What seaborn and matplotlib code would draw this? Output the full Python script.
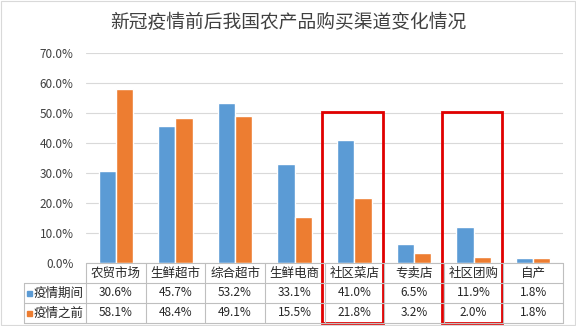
import matplotlib
matplotlib.use("Agg")
import matplotlib.pyplot as plt
from matplotlib.patches import Rectangle
from matplotlib.lines import Line2D
import seaborn as sns
import pandas as pd

categories = ["农贸市场", "生鲜超市", "综合超市", "生鲜电商", "社区菜店", "专卖店", "社区团购", "自产"]
during = [30.6, 45.7, 53.2, 33.1, 41.0, 6.5, 11.9, 1.8]
before = [58.1, 48.4, 49.1, 15.5, 21.8, 3.2, 2.0, 1.8]
series = ["疫情期间", "疫情之前"]
yticks = [0, 10, 20, 30, 40, 50, 60, 70]
title = "新冠疫情前后我国农产品购买渠道变化情况"
colors = ["#5B9BD5", "#ED7D31"]

sns.set_theme(style="white")
plt.rcParams["font.family"] = ["Noto Sans CJK SC", "DejaVu Sans"]

df = pd.DataFrame({
    "cat": categories * 2,
    "val": during + before,
    "series": [series[0]] * len(categories) + [series[1]] * len(categories),
})

W, H = 576, 326
fig = plt.figure(figsize=(W / 100, H / 100), dpi=100)
L, R, B, T = 86, 563, 263, 53
ax = fig.add_axes([L / W, 1 - B / H, (R - L) / W, (B - T) / H])
sns.barplot(data=df, x="cat", y="val", hue="series", palette=colors,
            width=0.58, ax=ax, legend=False, saturation=1)
ax.set_ylim(0, 70)
ax.set_xlim(-0.5, len(categories) - 0.5)
ax.set_yticks(yticks)
ax.set_yticklabels([f"{v:.1f}%" for v in yticks], fontsize=8.5, color="#404040")
ax.set_xticks([])
ax.set_xlabel("")
ax.set_ylabel("")
ax.tick_params(axis="y", length=0, pad=9)
ax.yaxis.grid(True, color="#d9d9d9", linewidth=0.8)
ax.set_axisbelow(True)
for s in ax.spines.values():
    s.set_visible(False)

fig.text(288 / W, 1 - 23 / H, title, ha="center", va="center", fontsize=13.5, color="#404040")

def fx(px):
    return px / W

def fy(py):
    return 1 - py / H

gc = "#bfbfbf"
colw = (R - L) / len(categories)
# horizontal lines
for py, x0 in [(263, L), (283, 24), (303, 24), (323, 24)]:
    fig.add_artist(Line2D([fx(x0), fx(R)], [fy(py), fy(py)], color=gc, lw=0.8))
# vertical lines
fig.add_artist(Line2D([fx(24), fx(24)], [fy(283), fy(323)], color=gc, lw=0.8))
for i in range(len(categories) + 1):
    px = L + i * colw
    fig.add_artist(Line2D([fx(px), fx(px)], [fy(263), fy(323)], color=gc, lw=0.8))

for i, c in enumerate(categories):
    cx = L + (i + 0.5) * colw
    fig.text(fx(cx), fy(273), c, ha="center", va="center", fontsize=9, color="#262626")
    fig.text(fx(cx), fy(293), f"{during[i]:.1f}%", ha="center", va="center", fontsize=8.5, color="#262626")
    fig.text(fx(cx), fy(313), f"{before[i]:.1f}%", ha="center", va="center", fontsize=8.5, color="#262626")

for j, (name, col) in enumerate(zip(series, colors)):
    py = 293 + 20 * j
    fig.add_artist(Rectangle((fx(27), fy(py + 3)), 5 / W, 5 / H, color=col))
    fig.text(fx(34), fy(py), name, ha="left", va="center", fontsize=9, color="#262626")

# red highlight boxes
for x0, x1 in [(322, 383), (442, 502)]:
    fig.add_artist(Rectangle((fx(x0), fy(323)), (x1 - x0) / W, (323 - 112) / H,
                             fill=False, edgecolor="#e00000", lw=2))

fig.add_artist(Rectangle((0.001, 0.002), 0.997, 0.995, fill=False, edgecolor="#d9d9d9", lw=0.8))

fig.savefig("out.png", dpi=100)
